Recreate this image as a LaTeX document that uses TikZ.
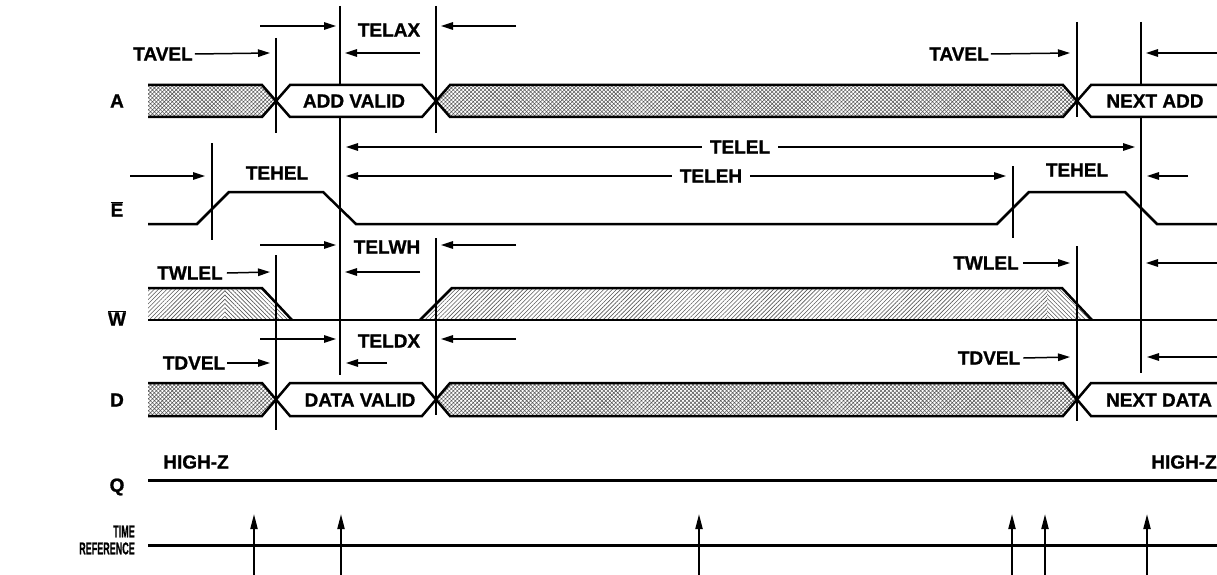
\documentclass[tikz,border=0pt]{standalone}
\usepackage{fontspec}
\setmainfont{Liberation Sans}[BoldFeatures={FakeBold=1}]
\usepackage{graphicx}
\usetikzlibrary{arrows.meta,patterns.meta}

\tikzset{
  sig/.style={line width=2.5pt,line join=miter},
  tline/.style={line width=1.5pt},
  dim/.style={line width=1.5pt,-{Triangle[length=12pt,width=7.5pt]}},
  tarrow/.style={line width=2pt,-{Triangle[length=15pt,width=7pt]}},
  lbl/.style={font=\fontsize{19}{21}\selectfont\bfseries,inner sep=0pt},
  xhatch/.style={pattern={Hatch[angle=45,distance=2.8pt,line width=0.55pt]},pattern color=black!65},
  wl/.style={pattern={Lines[angle=45,distance=3pt,line width=0.6pt]},pattern color=black!65},
  wr/.style={pattern={Lines[angle=-45,distance=3pt,line width=0.6pt]},pattern color=black!65}
}

\begin{document}
\begin{tikzpicture}[x=1pt,y=-1pt]
  \useasboundingbox (0,0) rectangle (1217,575);

  % signal names
  \node[lbl] (lblA) at (117,101) {A};
  \node[lbl] (lblE) at (117,209) {\(\overline{\mbox{\bfseries E}}\)};
  \node[lbl] (lblW) at (117,318) {\(\overline{\mbox{\bfseries W}}\)};
  \node[lbl] (lblD) at (117,400) {D};
  \node[lbl] (lblQ) at (117,487) {Q};
  \node[lbl,anchor=east,align=right,font=\fontsize{17}{17}\selectfont\bfseries] (lblT) at (135,540)
    {\scalebox{0.53}[1]{TIME}\\\scalebox{0.53}[1]{REFERENCE}};

  % A and D buses
  \foreach \yt/\yb in {85/117,383/416} {
    \pgfmathsetmacro{\ym}{(\yt+\yb)/2}
    \fill[xhatch] (148,\yt) -- (262,\yt) -- (276,\ym) -- (262,\yb) -- (148,\yb) -- cycle;
    \fill[xhatch] (436,\ym) -- (450,\yt) -- (1063,\yt) -- (1077,\ym) -- (1063,\yb) -- (450,\yb) -- cycle;
    \draw[sig] (148,\yt) -- (262,\yt) -- (290,\yb) -- (422,\yb) -- (450,\yt) -- (1063,\yt) -- (1091,\yb) -- (1217,\yb);
    \draw[sig] (148,\yb) -- (262,\yb) -- (290,\yt) -- (422,\yt) -- (450,\yb) -- (1063,\yb) -- (1091,\yt) -- (1217,\yt);
  }
  \node[lbl] (addvalid) at (354,101) {ADD VALID};
  \node[lbl] (nextadd) at (1155,101) {NEXT ADD};
  \node[lbl] (datavalid) at (360,400) {DATA VALID};
  \node[lbl] (nextdata) at (1159,400) {NEXT DATA};

  % E signal
  \draw[sig] (148,224) -- (197,224) -- (229,192) -- (323,192) -- (356,224) -- (997,224)
    -- (1029,192) -- (1125,192) -- (1157,224) -- (1217,224);

  % W signal
  \fill[wl] (148,288) -- (225,288) -- (225,320) -- (148,320) -- cycle;
  \fill[wr] (225,288) -- (262,288) -- (292,320) -- (225,320) -- cycle;
  \fill[wl] (420,320) -- (452,288) -- (1047,288) -- (1047,320) -- cycle;
  \fill[wr] (1047,288) -- (1062,288) -- (1092,320) -- (1047,320) -- cycle;
  \draw[sig] (148,288) -- (262,288) -- (292,320);
  \draw[sig] (420,320) -- (452,288) -- (1062,288) -- (1092,320);
  \draw[sig] (148,320) -- (1217,320);

  % Q and time reference
  \node[lbl] (hizL) at (196,462) {HIGH-Z};
  \node[lbl] (hizR) at (1184,462) {HIGH-Z};
  \draw[line width=3pt] (148,480) -- (1217,480);
  \draw[line width=3pt] (148,545) -- (1217,545);
  \foreach \t in {254,341,699,1012,1045,1147}
    \draw[tarrow] (\t,575) -- (\t,514);

  % time marks
  \draw[tline] (276,38) -- (276,133);
  \draw[tline] (276,255) -- (276,430);
  \draw[tline] (340,6) -- (340,85);
  \draw[tline] (340,117) -- (340,375);
  \draw[tline] (436,6) -- (436,133);
  \draw[tline] (436,238) -- (436,415);
  \draw[tline] (212,143) -- (212,240);
  \draw[tline] (1013,166) -- (1013,238);
  \draw[tline] (1077,22) -- (1077,117);
  \draw[tline] (1077,246) -- (1077,421);
  \draw[tline] (1141,22) -- (1141,85);
  \draw[tline] (1141,117) -- (1141,373);

  % timing parameters, A row
  \node[lbl] (telax) at (389,30) {TELAX};
  \draw[dim] (260,26) -- (336,26);
  \draw[dim] (516,26) -- (441,26);
  \node[lbl] (tavelL) at (163,54) {TAVEL};
  \draw[dim] ([xshift=2pt]tavelL.east) -- (270,53);
  \draw[dim] (420,53) -- (345,53);
  \node[lbl] (tavelR) at (959,54) {TAVEL};
  \draw[dim] ([xshift=2pt]tavelR.east) -- (1070,53);
  \draw[dim] (1217,53) -- (1146,53);

  % E row
  \node[lbl] (telel) at (740,147) {TELEL};
  \draw[dim] ([xshift=-8pt]telel.west) -- (346,147);
  \draw[dim] ([xshift=8pt]telel.east) -- (1135,147);
  \draw[dim] (130,176) -- (205,176);
  \node[lbl] (tehelL) at (277,173) {TEHEL};
  \node[lbl] (teleh) at (711,176) {TELEH};
  \draw[dim] ([xshift=-8pt]teleh.west) -- (346,176);
  \draw[dim] ([xshift=8pt]teleh.east) -- (1006,176);
  \node[lbl] (tehelR) at (1077,170) {TEHEL};
  \draw[dim] (1188,176) -- (1147,176);

  % W row
  \node[lbl] (telwh) at (387,247) {TELWH};
  \draw[dim] (260,245) -- (336,245);
  \draw[dim] (516,245) -- (441,245);
  \node[lbl] (twlelL) at (190,273) {TWLEL};
  \draw[dim] ([xshift=4pt]twlelL.east) -- (270,272);
  \draw[dim] (420,272) -- (345,272);
  \node[lbl] (twlelR) at (986,263) {TWLEL};
  \draw[dim] ([xshift=4pt]twlelR.east) -- (1070,263);
  \draw[dim] (1217,263) -- (1146,263);

  % D row
  \node[lbl] (teldx) at (389,341) {TELDX};
  \draw[dim] (260,339) -- (336,339);
  \draw[dim] (516,339) -- (441,339);
  \node[lbl] (tdvelL) at (194,363) {TDVEL};
  \draw[dim] ([xshift=2pt]tdvelL.east) -- (270,363);
  \draw[dim] (387,363) -- (346,363);
  \node[lbl] (tdvelR) at (989,358) {TDVEL};
  \draw[dim] ([xshift=3pt]tdvelR.east) -- (1070,357);
  \draw[dim] (1217,357) -- (1147,357);
\end{tikzpicture}
\end{document}
